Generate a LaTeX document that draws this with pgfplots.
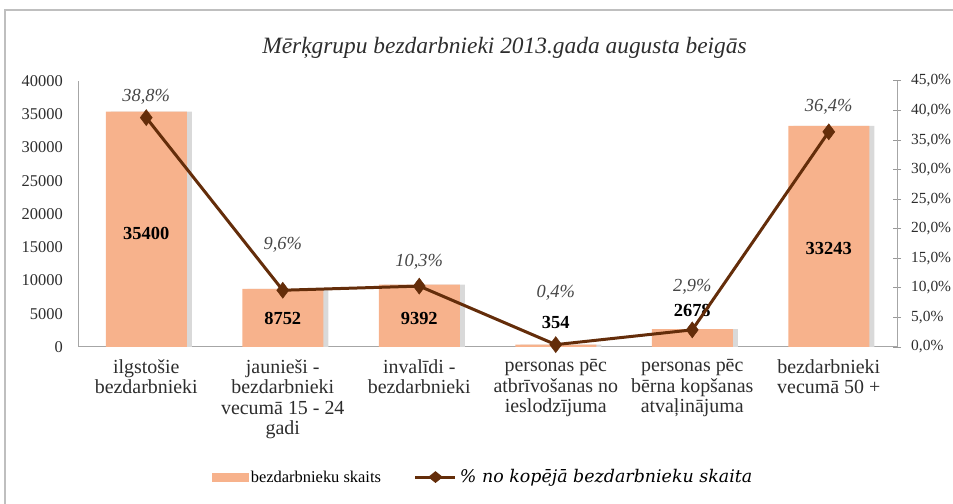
\documentclass[border=0pt]{standalone}
\usepackage{fontspec}
\setmainfont{Liberation Serif}
\newfontfamily\legit{DejaVu Serif}
\usepackage{pgfplots}
\pgfplotsset{compat=1.18}
\definecolor{barcol}{RGB}{247,178,140}
\definecolor{linecol}{RGB}{100,45,10}
\definecolor{labgray}{RGB}{70,70,70}
\definecolor{tickgray}{RGB}{45,45,45}
\begin{document}
\begin{tikzpicture}
\useasboundingbox (0,0) rectangle (953bp,504bp);
\draw[black!25, line width=1.5bp] (5bp,0) -- (5bp,494bp) -- (953bp,494bp);
\begin{axis}[
  at={(78bp,157bp)}, anchor=south west,
  scale only axis, width=819bp, height=266bp,
  xmin=-0.5, xmax=5.5, ymin=0, ymax=40000,
  axis x line*=bottom, axis y line*=left,
  axis line style={black!35, line width=1bp},
  xtick={0,...,5},
  xticklabels={{ilgstošie\\bezdarbnieki},{jaunieši -\\bezdarbnieki\\vecumā 15 - 24\\gadi},{invalīdi -\\bezdarbnieki},{personas pēc\\atbrīvošanas no\\ieslodzījuma},{personas pēc\\bērna kopšanas\\atvaļinājuma},{bezdarbnieki\\vecumā 50 +}},
  xticklabel style={align=center, font=\fontsize{20}{20.5}\selectfont, text=tickgray, anchor=north, yshift=-9bp},
  ytick={0,5000,...,40000},
  scaled y ticks=false,
  yticklabel style={font=\fontsize{16.5}{18}\selectfont, text=tickgray, anchor=east, inner sep=0pt, xshift=-15bp},
  /pgf/number format/.cd, assume math mode=true, 1000 sep={},
  /pgfplots/.cd,
  major tick length=0pt,
  title={Mērķgrupu bezdarbnieki 2013.gada augusta beigās},
  title style={font=\fontsize{23.5}{26}\selectfont\itshape, text=tickgray, at={(axis description cs:0.5,1)}, anchor=center, yshift=27bp, xshift=17bp},
  clip=false,
]
\addplot[ybar, bar width=81bp, bar shift=5bp, fill=black!15, draw=none] coordinates {(0,35400) (1,8752) (2,9392) (3,354) (4,2678) (5,33243)};
\addplot[ybar, bar width=81bp, bar shift=0bp, fill=barcol, draw=none] coordinates {(0,35400) (1,8752) (2,9392) (3,354) (4,2678) (5,33243)};
\addplot[draw=none, nodes near coords, point meta=explicit symbolic,
  nodes near coords style={font=\fontsize{18.5}{20}\selectfont\bfseries, text=black, anchor=center}]
  coordinates {(0,17100)[35400] (1,4360)[8752] (2,4360)[9392] (3,3760)[354] (4,5560)[2678] (5,14800)[33243]};
\end{axis}
\begin{axis}[
  at={(78bp,157bp)}, anchor=south west,
  scale only axis, width=819bp, height=266bp,
  xmin=-0.5, xmax=5.5, ymin=0, ymax=45,
  axis y line*=right, hide x axis,
  axis line style={black!35, line width=1bp},
  ytick={0,5,...,45},
  yticklabels={{0,0\%},{5,0\%},{10,0\%},{15,0\%},{20,0\%},{25,0\%},{30,0\%},{35,0\%},{40,0\%},{45,0\%}},
  yticklabel style={font=\fontsize{15.5}{18}\selectfont, text=tickgray, anchor=west, inner sep=0pt, xshift=10bp},
  major tick length=8bp, tick align=center,
  tick style={black!40, line width=1bp},
  clip=false,
  legend style={at={(axis description cs:0.495,-0.489)}, anchor=center, draw=none, fill=none,
    legend columns=2, font=\fontsize{16.5}{19}\selectfont,
    nodes={inner xsep=3bp},
    /tikz/every even column/.append style={column sep=30bp}},
  legend cell align=left,
]
\addlegendimage{legend image code/.code={\fill[barcol] (0bp,-4bp) rectangle (36bp,4bp);}}
\addlegendentry{bezdarbnieku skaits}
\addplot[linecol, line width=3bp, mark=diamond*, mark size=8bp, mark options={fill=linecol, line width=0.5bp},
  legend image code/.code={\draw[linecol, line width=3bp] (0bp,0bp) -- (40bp,0bp); \fill[linecol] (15bp,0bp) -- (20bp,4bp) -- (25bp,0bp) -- (20bp,-4bp) -- cycle;}]
  coordinates {(0,38.8) (1,9.6) (2,10.3) (3,0.4) (4,2.9) (5,36.4)};
\addlegendentry{{\legit\itshape\fontsize{17.5}{19}\selectfont\% no kopējā bezdarbnieku skaita}}
\addplot[draw=none, forget plot, nodes near coords, point meta=explicit symbolic,
  nodes near coords style={font=\fontsize{18.5}{20}\selectfont\itshape, text=labgray, anchor=center}]
  coordinates {(0,42.3)[38,8\%] (1,17.3)[9,6\%] (2,14.4)[10,3\%] (3,9.1)[0,4\%] (4,10.2)[2,9\%] (5,40.6)[36,4\%]};
\end{axis}
\end{tikzpicture}
\end{document}
